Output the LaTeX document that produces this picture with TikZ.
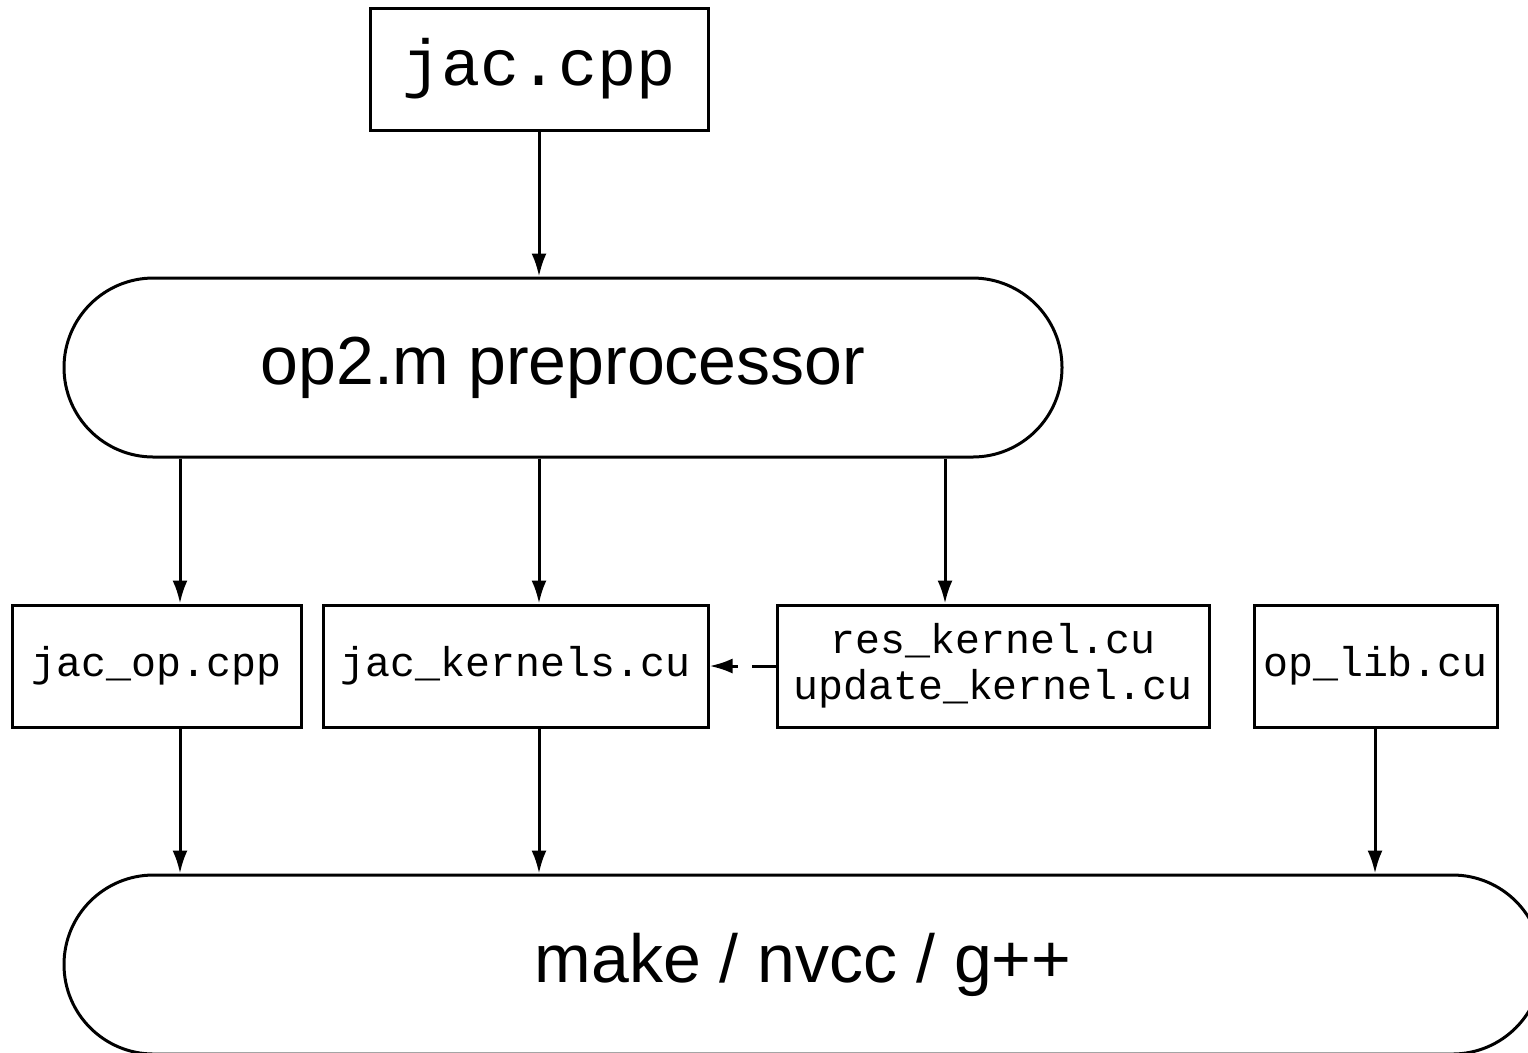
\documentclass[tikz,border=0pt]{standalone}
\usepackage{fontspec}
\setsansfont{Liberation Sans}
\setmonofont{Liberation Mono}
\usetikzlibrary{arrows.meta,shapes.misc}

\tikzset{every picture/.style={line width=0.75pt}}
\tikzset{
  filebox/.style={draw, rectangle, minimum height=30.5pt, inner sep=0.75pt, align=center,
    font=\ttfamily\fontsize{10.4}{11.6}\selectfont},
  toolbox/.style={draw, rounded rectangle, minimum height=44.75pt, inner sep=0.75pt,
    font=\sffamily\fontsize{17}{20}\selectfont},
  flow/.style={-{Latex[length=5.75pt,width=3.75pt]}},
}

\begin{document}
\begin{tikzpicture}[x=0.25pt,y=0.25pt,yscale=-1,xscale=1]
%set diagram to 1528 x 1052
\useasboundingbox (0,0) rectangle (1528,1052);
\clip (0,0) rectangle (1528,1052);

%Shape: Rectangle [id:source]
\node [filebox, minimum width=84.5pt, font=\ttfamily\fontsize{16.3}{18}\selectfont] (jac) at (539,69) {jac.cpp};
%Shape: Rounded Rect [id:preproc]
\node [toolbox, minimum width=251pt] (pre) at (563,367.5) {op2.m preprocessor};

%Shape: Rectangle [id:jacop]
\node [filebox, minimum width=72.25pt] (jop) at (156.5,666) {jac\_op.cpp};
%Shape: Rectangle [id:jackern]
\node [filebox, minimum width=96.25pt] (jkern) at (515.5,666) {jac\_kernels.cu};
%Shape: Rectangle [id:reskern]
\node [filebox, minimum width=108pt] (res) at (993,666) {res\_kernel.cu\\update\_kernel.cu};
%Shape: Rectangle [id:oplib]
\node [filebox, minimum width=60.75pt] (olib) at (1375.5,666) {op\_lib.cu};

%Shape: Rounded Rect [id:make]
\node [toolbox, minimum width=371pt] (mk) at (803,964.5) {make / nvcc / g++};

% arrow columns
\coordinate (c1) at (180,0);
\coordinate (c2) at (539,0);
\coordinate (c3) at (945,0);
\coordinate (c4) at (1375,0);

%Straight Lines
\draw [flow] (jac.south) -- (pre.north -| c2);
\draw [flow] (pre.south -| c1) -- (jop.north -| c1);
\draw [flow] (pre.south -| c2) -- (jkern.north -| c2);
\draw [flow] (pre.south -| c3) -- (res.north -| c3);
%Dashed Line
\draw [flow, dash pattern=on 6pt off 3.5pt] (res.west) -- (jkern.east);
%Straight Lines
\draw [flow] (jop.south -| c1) -- (mk.north -| c1);
\draw [flow] (jkern.south -| c2) -- (mk.north -| c2);
\draw [flow] (olib.south -| c4) -- (mk.north -| c4);

\end{tikzpicture}
\end{document}
